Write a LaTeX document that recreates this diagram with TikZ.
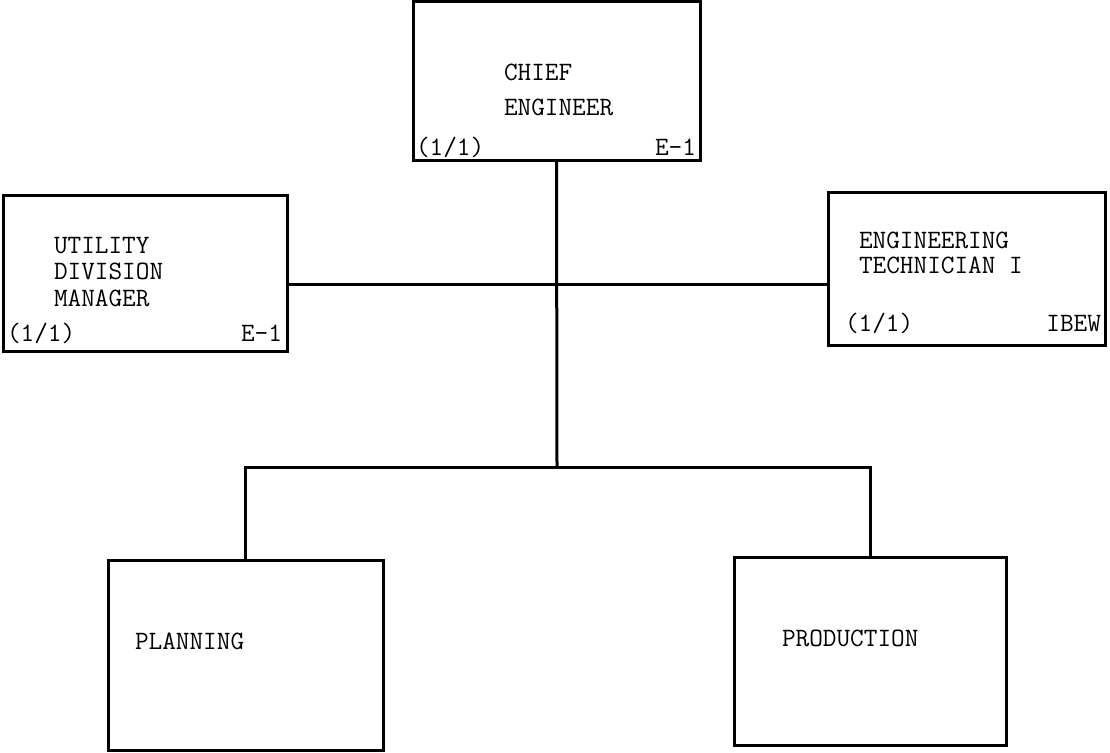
\documentclass[tikz,border=0pt]{standalone}
\begin{document}
\begin{tikzpicture}[x=1pt,y=-1pt,
  box/.style={draw=black, line width=3pt, rectangle, inner sep=0pt, outer sep=0pt, anchor=north west},
  lbl/.style={inner sep=0pt, outer sep=0pt, font=\ttfamily\fontsize{26.5}{31}\selectfont, text=black},
  conn/.style={draw=black, line width=3pt}]
\useasboundingbox[fill=white] (0,0) rectangle (1110,752);
% boxes
\node[box, minimum width=287pt, minimum height=158pt] (chief) at (413,2) {};
\node[box, minimum width=284pt, minimum height=156pt] (util) at (3,195) {};
\node[box, minimum width=277pt, minimum height=153pt] (tech) at (828,192) {};
\node[box, minimum width=275pt, minimum height=190pt] (plan) at (108,560) {};
\node[box, minimum width=272pt, minimum height=188pt] (prod) at (734,557) {};
% labels
\node[lbl, anchor=base west] (c1) at (504,80) {CHIEF};
\node[lbl, anchor=base west] (c2) at (504,115) {ENGINEER};
\node[lbl, anchor=base west] (c3) at (416,155) {(1/1)};
\node[lbl, anchor=base east] (c4) at (696,155) {E-1};
\node[lbl, anchor=base west] (u1) at (54,253) {UTILITY};
\node[lbl, anchor=base west] (u2) at (54,279) {DIVISION};
\node[lbl, anchor=base west] (u3) at (54,306) {MANAGER};
\node[lbl, anchor=base west] (u4) at (7,341) {(1/1)};
\node[lbl, anchor=base east] (u5) at (282,341) {E-1};
\node[lbl, anchor=base west] (t1) at (859,248) {ENGINEERING};
\node[lbl, anchor=base west] (t2) at (859,273) {TECHNICIAN I};
\node[lbl, anchor=base west] (t3) at (845,331) {(1/1)};
\node[lbl, anchor=base east] (t4) at (1101,331) {IBEW};
\node[lbl, anchor=base west] (p1) at (135,649) {PLANNING};
\node[lbl, anchor=base west] (r1) at (782,646) {PRODUCTION};
% connectors
\coordinate (j1) at (557,284);
\coordinate (j2) at (557,467);
\draw[conn] (chief.south) -- (j2);
\draw[conn] (util.east |- j1) -- (tech.west |- j1);
\draw[conn] (plan.north) |- (j2) -| (prod.north);
\end{tikzpicture}
\end{document}
